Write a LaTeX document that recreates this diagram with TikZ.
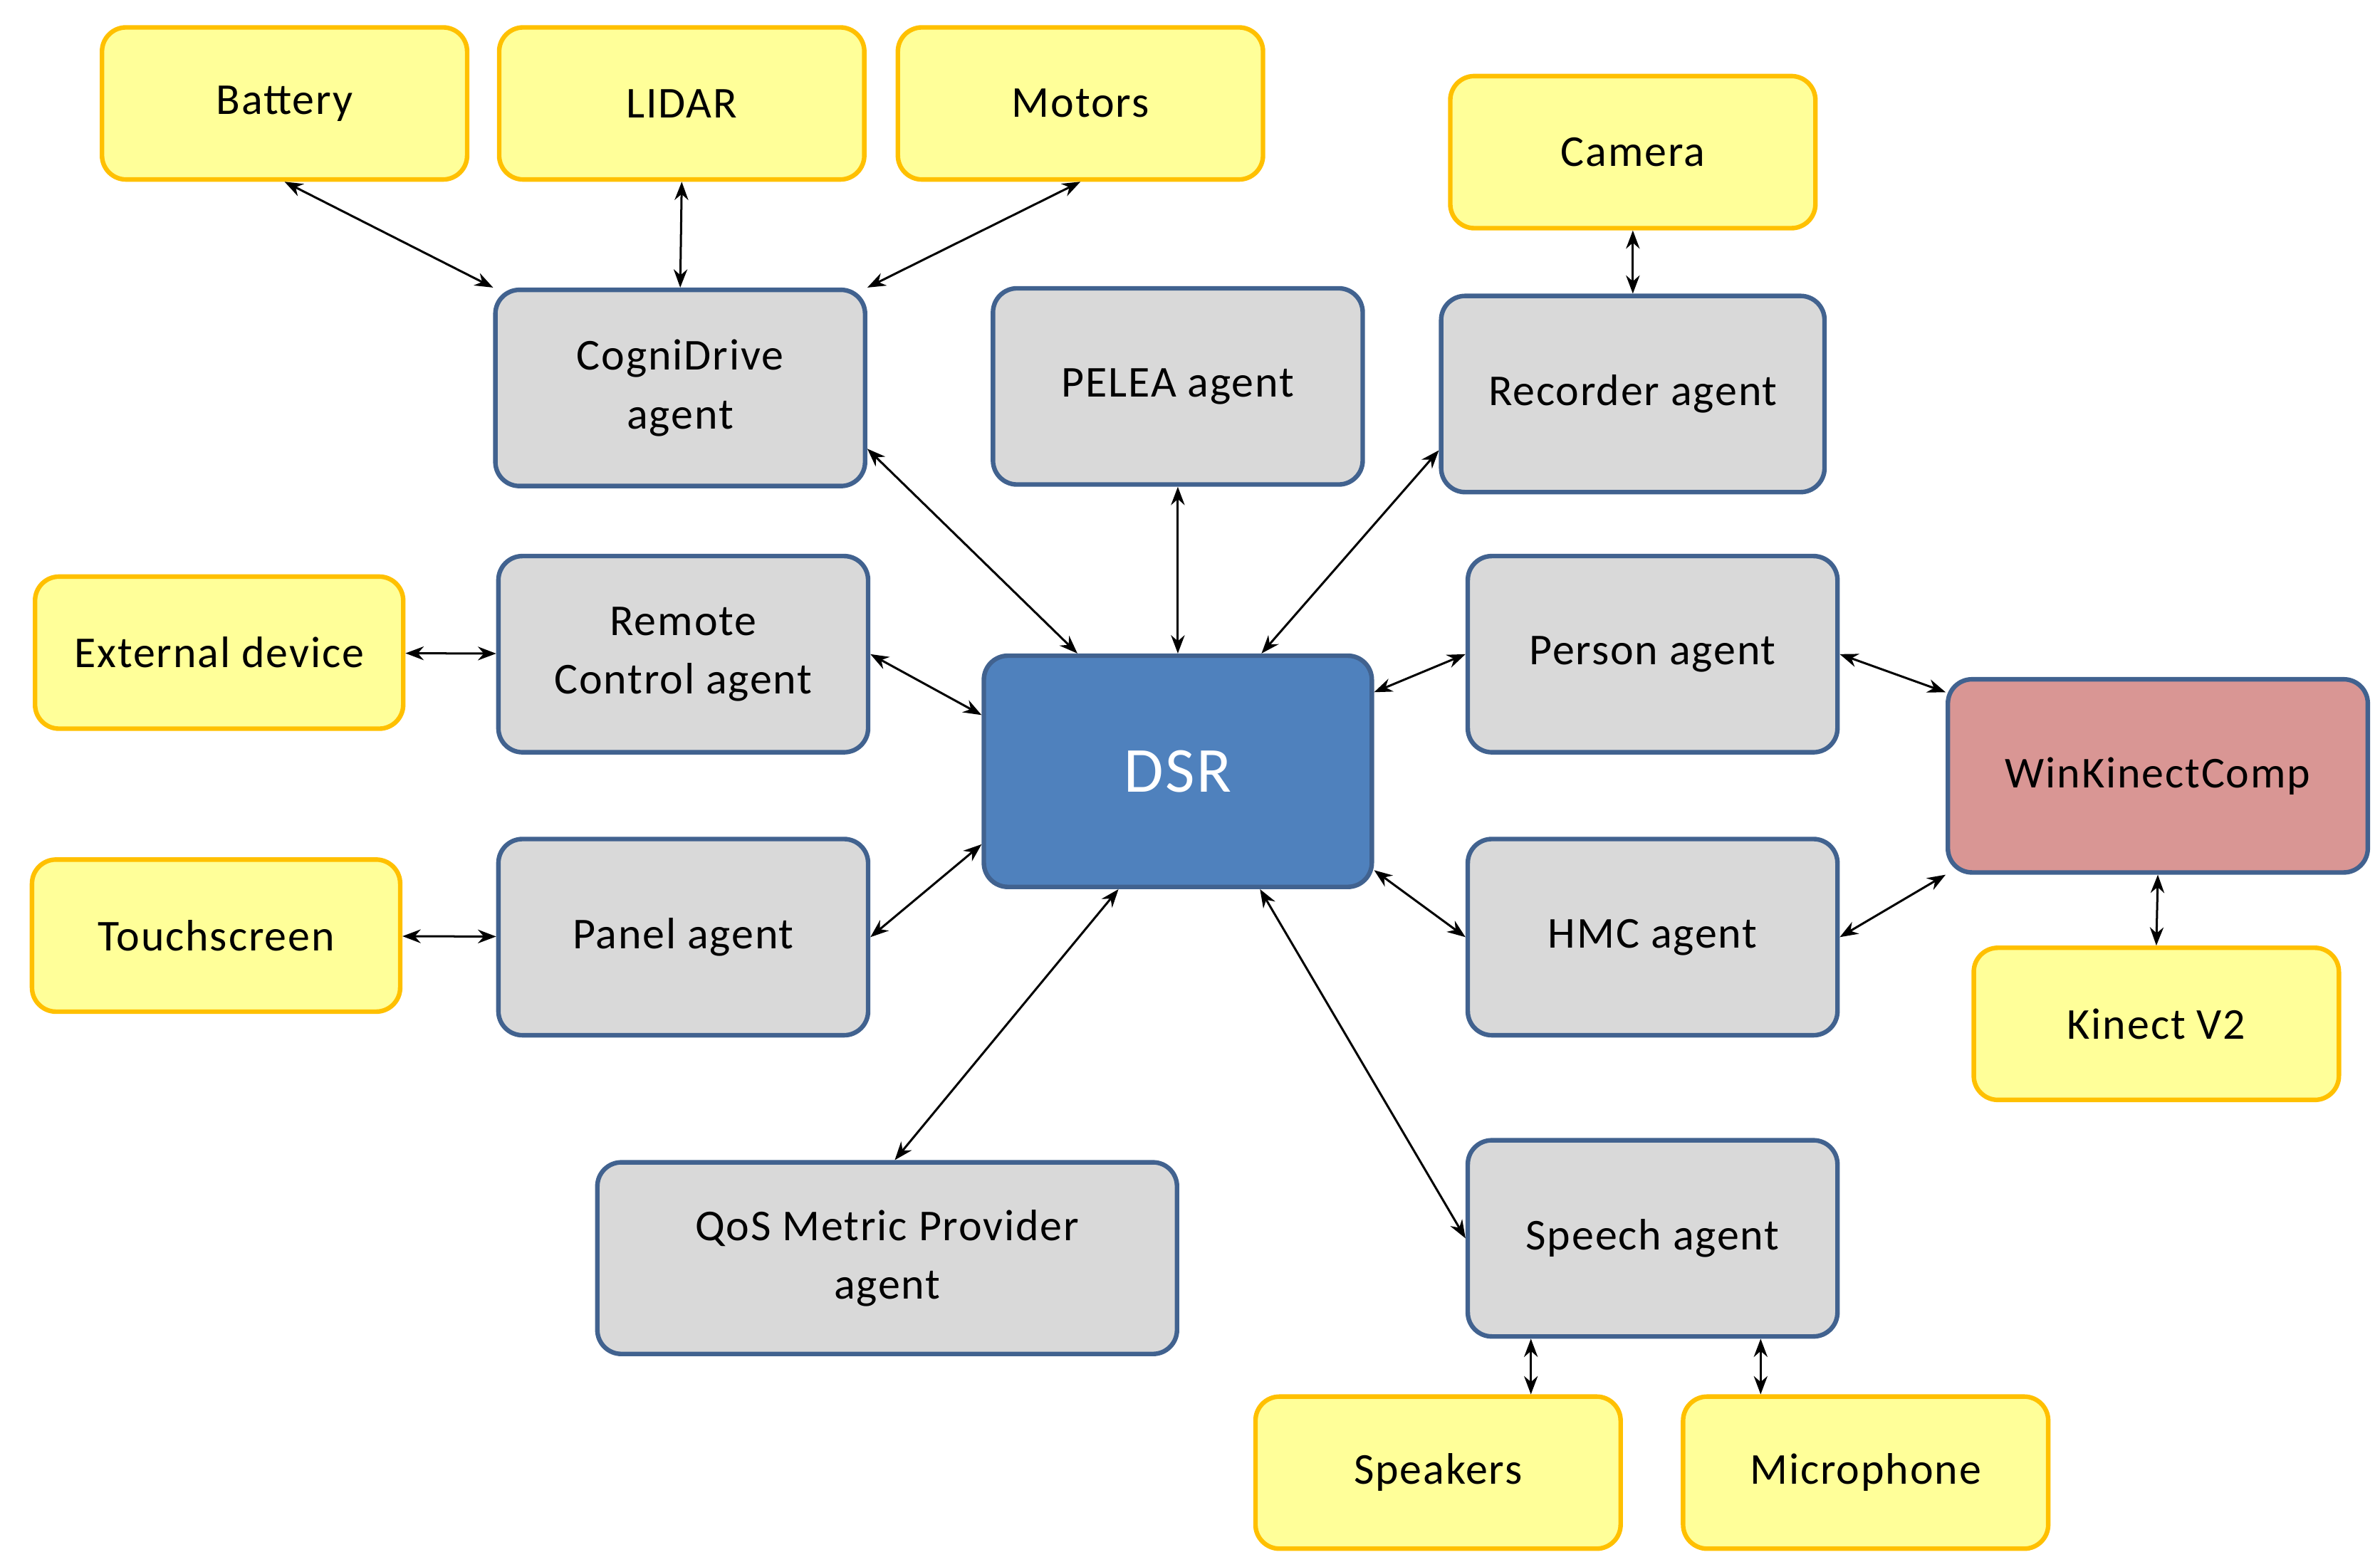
\documentclass[tikz,border=0pt]{standalone}
\usepackage{fontspec}
\setmainfont{Carlito}[LetterSpace=3]
\usetikzlibrary{arrows.meta}
\definecolor{yelfill}{HTML}{FFFF99}
\definecolor{yelline}{HTML}{FFC000}
\definecolor{grayfill}{HTML}{D9D9D9}
\definecolor{bluline}{HTML}{41628F}
\definecolor{dsrfill}{HTML}{4F81BD}
\definecolor{winfill}{HTML}{D99694}
\begin{document}
\begin{tikzpicture}[
      x = 0.02cm, y = -0.02cm,
      font = \fontsize{16.5}{22}\selectfont,
      dev/.style = {
        rectangle,
        draw = yelline, line width = 1.7pt,
        fill = yelfill,
        align = center,
        rounded corners = 9pt,
        minimum width = 4.8cm,
        minimum height = 2cm,
      },
      agent/.style = {
        rectangle,
        draw = bluline, line width = 1.7pt,
        fill = grayfill,
        align = center,
        rounded corners = 9pt,
        minimum width = 4.86cm,
        minimum height = 2.58cm,
      },
      link/.style = {
        {Stealth[length=2.4mm,width=1.8mm]}-{Stealth[length=2.4mm,width=1.8mm]},
        line width = 0.8pt,
      }
    ]
    \useasboundingbox (0,0) rectangle (1564,1030);

    % devices
    \node[dev] (bat) at (187,68) {Battery};
    \node[dev] (lidar) at (448,68) {LIDAR};
    \node[dev] (mot) at (710,68) {Motors};
    \node[dev] (cam) at (1073,100) {Camera};
    \node[dev, minimum width = 4.84cm] (ext) at (144,429) {External device};
    \node[dev, minimum width = 4.84cm] (touch) at (142,615) {Touchscreen};
    \node[dev] (kin) at (1417,673) {Kinect V2};
    \node[dev] (spk) at (945,968) {Speakers};
    \node[dev] (mic) at (1226,968) {Microphone};

    % agents
    \node[agent] (cogni) at (447,255) {CogniDrive\\agent};
    \node[agent] (pelea) at (774,254) {PELEA agent};
    \node[agent, minimum width = 5.04cm] (rec) at (1073,259) {Recorder agent};
    \node[agent] (remote) at (449,430) {Remote\\Control agent};
    \node[agent] (panel) at (449,616) {Panel agent};
    \node[agent] (person) at (1086,430) {Person agent};
    \node[agent] (hmc) at (1086,616) {HMC agent};
    \node[agent] (speech) at (1086,814) {Speech agent};
    \node[agent, minimum width = 7.62cm, minimum height = 2.52cm] (qos) at (583,827) {QoS Metric Provider\\agent};
    \node[agent, fill = dsrfill, minimum width = 5.1cm, minimum height = 3.04cm,
          text = white, font = \fontsize{24}{28}\selectfont] (dsr) at (774,507) {DSR};
    \node[agent, fill = winfill, minimum width = 5.52cm, minimum height = 2.54cm] (win) at (1418,510) {WinKinectComp};

    % connectors
    \draw[link] (bat.south) -- (cogni.north west);
    \draw[link] (lidar.south) -- (cogni.north);
    \draw[link] (mot.south) -- (cogni.north east);
    \draw[link] (cam.south) -- (rec.north);
    \draw[link] ([yshift=-0.8cm]cogni.east) -- ([xshift=1.26cm]dsr.north west);
    \draw[link] (pelea.south) -- (dsr.north);
    \draw[link] ([yshift=-0.74cm]rec.west) -- ([xshift=-1.48cm]dsr.north east);
    \draw[link] (ext) -- (remote);
    \draw[link] (remote.east) -- ([yshift=0.74cm]dsr.west);
    \draw[link] (touch) -- (panel);
    \draw[link] (panel.east) -- ([yshift=-0.96cm]dsr.west);
    \draw[link] (person.west) -- ([yshift=1.04cm]dsr.east);
    \draw[link] (hmc.west) -- ([yshift=-1.3cm]dsr.east);
    \draw[link] (person.east) -- ([yshift=-0.2cm]win.north west);
    \draw[link] (hmc.east) -- (win.south west);
    \draw[link] (win.south) -- (kin.north);
    \draw[link] ([xshift=-0.78cm]dsr.south) -- ([xshift=0.1cm]qos.north);
    \draw[link] ([xshift=1.08cm]dsr.south) -- (speech.west);
    \draw[link] ([xshift=-1.6cm]speech.south) -- ([xshift=-1.6cm]speech.south |- spk.north);
    \draw[link] ([xshift=1.42cm]speech.south) -- ([xshift=1.42cm]speech.south |- mic.north);
  \end{tikzpicture}
\end{document}
